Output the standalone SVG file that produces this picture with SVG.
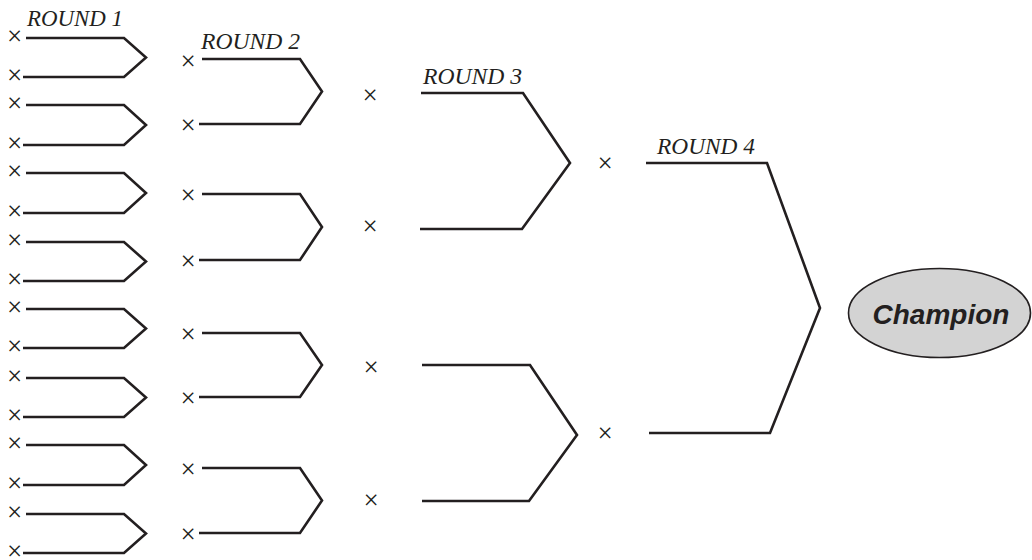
<svg xmlns="http://www.w3.org/2000/svg" width="1032" height="560" viewBox="0 0 1032 560">
<style>
.br{fill:none;stroke:#231f20;stroke-width:2.6;stroke-linejoin:miter}
.x{font-family:"Liberation Serif","Times New Roman",serif;font-size:27px;fill:#231f20;text-anchor:middle}
.lbl{font-family:"Liberation Serif","Times New Roman",serif;font-style:italic;font-size:24px;fill:#231f20}
.champ{fill:#d3d3d3;stroke:#231f20;stroke-width:1.6}
.ct{font-family:"Liberation Sans",Arial,sans-serif;font-weight:bold;font-style:italic;font-size:28px;fill:#231f20;text-anchor:middle}
</style>
<rect width="1032" height="560" fill="#ffffff"/>
<g id="labels">
<text class="lbl" x="27" y="26" textLength="96" lengthAdjust="spacingAndGlyphs">ROUND 1</text>
<text class="lbl" x="201" y="49" textLength="99" lengthAdjust="spacingAndGlyphs">ROUND 2</text>
<text class="lbl" x="423" y="84" textLength="99" lengthAdjust="spacingAndGlyphs">ROUND 3</text>
<text class="lbl" x="657" y="154" textLength="98" lengthAdjust="spacingAndGlyphs">ROUND 4</text>
</g>
<g id="connectors">
<path class="br" d="M26 38 H124 L146 57.5 L124 77 H23"/>
<path class="br" d="M26 105 H124 L146 125 L124 145 H23"/>
<path class="br" d="M26 173 H124 L146 193 L124 213 H23"/>
<path class="br" d="M26 242 H124 L146 261.5 L124 281 H23"/>
<path class="br" d="M26 309 H124 L146 328.5 L124 348 H23"/>
<path class="br" d="M26 378 H124 L146 397.5 L124 417 H23"/>
<path class="br" d="M26 445 H124 L146 465 L124 485 H23"/>
<path class="br" d="M26 514 H124 L146 533.5 L124 553 H23"/>
<path class="br" d="M202 59 H300 L322 91.5 L300 124 H199"/>
<path class="br" d="M202 194 H300 L322 227 L300 260 H199"/>
<path class="br" d="M202 333 H300 L322 365 L300 397 H199"/>
<path class="br" d="M202 468 H300 L322 500.5 L300 533 H199"/>
<path class="br" d="M421 93 H523 L570 163 L522 229 H420"/>
<path class="br" d="M422 365 H530 L577 435 L529 501 H422"/>
<path class="br" d="M646 163 H767 L820 308 L770 433 H649"/>
</g>
<g id="r1-1"><text class="x" x="14.5" y="45">×</text></g>
<g id="r1-2"><text class="x" x="14.5" y="84">×</text></g>
<g id="r1-3"><text class="x" x="14.5" y="112">×</text></g>
<g id="r1-4"><text class="x" x="14.5" y="152">×</text></g>
<g id="r1-5"><text class="x" x="14.5" y="180">×</text></g>
<g id="r1-6"><text class="x" x="14.5" y="220">×</text></g>
<g id="r1-7"><text class="x" x="14.5" y="249">×</text></g>
<g id="r1-8"><text class="x" x="14.5" y="288">×</text></g>
<g id="r1-9"><text class="x" x="14.5" y="316">×</text></g>
<g id="r1-10"><text class="x" x="14.5" y="355">×</text></g>
<g id="r1-11"><text class="x" x="14.5" y="385">×</text></g>
<g id="r1-12"><text class="x" x="14.5" y="424">×</text></g>
<g id="r1-13"><text class="x" x="14.5" y="452">×</text></g>
<g id="r1-14"><text class="x" x="14.5" y="492">×</text></g>
<g id="r1-15"><text class="x" x="14.5" y="521">×</text></g>
<g id="r1-16"><text class="x" x="14.5" y="560">×</text></g>
<g id="r2-1"><text class="x" x="188" y="70">×</text></g>
<g id="r2-2"><text class="x" x="188" y="134">×</text></g>
<g id="r2-3"><text class="x" x="188" y="204">×</text></g>
<g id="r2-4"><text class="x" x="188" y="270">×</text></g>
<g id="r2-5"><text class="x" x="188" y="343">×</text></g>
<g id="r2-6"><text class="x" x="188" y="407">×</text></g>
<g id="r2-7"><text class="x" x="188" y="478">×</text></g>
<g id="r2-8"><text class="x" x="188" y="543">×</text></g>
<g id="r3-1"><text class="x" x="370" y="104">×</text></g>
<g id="r3-2"><text class="x" x="370" y="235">×</text></g>
<g id="r3-3"><text class="x" x="371" y="376">×</text></g>
<g id="r3-4"><text class="x" x="371" y="509">×</text></g>
<g id="r4-1"><text class="x" x="605" y="172">×</text></g>
<g id="r4-2"><text class="x" x="605" y="442">×</text></g>
<g id="champion">
<ellipse class="champ" cx="939.5" cy="313" rx="91" ry="44.5"/>
<text class="ct" x="941" y="324">Champion</text>
</g>
</svg>
